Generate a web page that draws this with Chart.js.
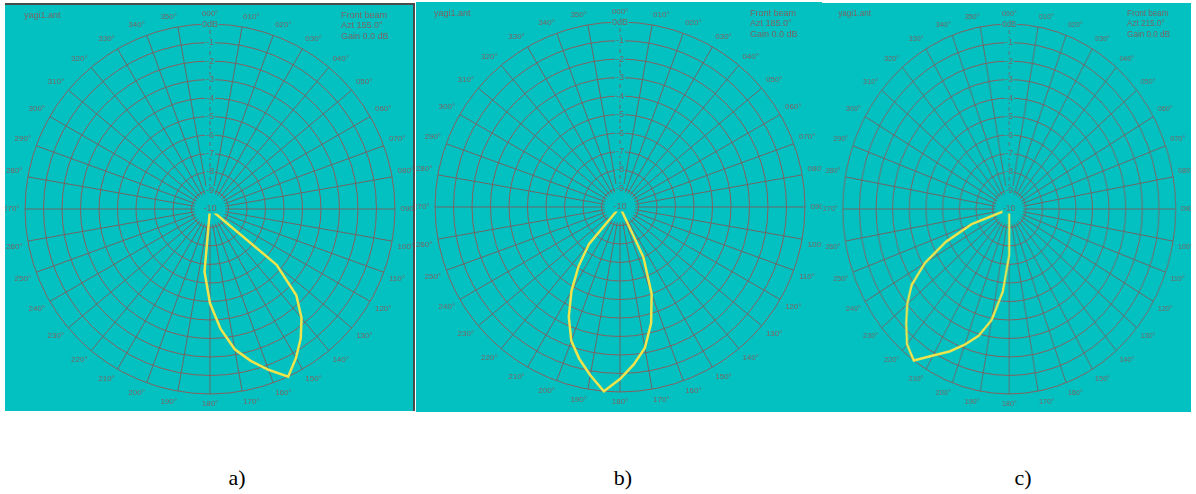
<!DOCTYPE html>
<html lang="en">
<head>
    <title>Yagi beam patterns</title>
    <script src="https://cdn.jsdelivr.net/npm/chart.js"></script>
    <style>
        body {
            margin: 0;
            background: #fff;
            width: 1196px;
            height: 494px;
            position: relative;
            overflow: hidden;
        }
        .panel {
            position: absolute;
            background: #03c1c1;
            overflow: hidden;
            box-sizing: border-box;
        }
        .wrap {
            position: absolute;
            left: 0;
            top: 0;
            width: 410px;
            height: 410px;
        }
        .holder {
            position: absolute;
            width: 414px;
            height: 414px;
        }
        .file, .info {
            position: absolute;
            font-family: "Liberation Sans", Arial, sans-serif;
            font-size: 9px;
            line-height: 10.4px;
            color: #7a6464;
            white-space: nowrap;
        }
        .caption {
            position: absolute;
            top: 464px;
            width: 60px;
            text-align: center;
            font-family: "Liberation Serif", "Times New Roman", serif;
            font-size: 22px;
            line-height: 28px;
            color: #000;
        }
    </style>
</head>
<body>
    <div class="panel" style="left:5px;top:3px;width:410px;height:408px;border-top:2px solid #4a4a4a;border-right:2px solid #4a4a4a;">
        <div class="holder" style="left:-2px;top:-2px;"><canvas id="beamA"></canvas></div>
        <div class="file" style="left:19px;top:5px;">yagi1.ant</div>
        <div class="info" style="left:336px;top:5px;">Front beam<br>Azt 155.0°<br>Gain 0.0 dB</div>
    </div>

    <div class="panel" style="left:416px;top:2px;width:406px;height:410px;">
        <div class="holder" style="left:-3px;top:-1px;"><canvas id="beamB"></canvas></div>
        <div class="file" style="left:18px;top:6px;">yagi1.ant</div>
        <div class="info" style="left:334px;top:6px;">Front beam<br>Azt 185.0°<br>Gain 0.0 dB</div>
    </div>

    <div class="panel" style="left:822px;top:3px;width:369px;height:409px;">
        <div class="wrap" style="transform:scaleX(0.9);transform-origin:0 0;">
            <div class="holder" style="left:1px;top:0px;"><canvas id="beamC"></canvas></div>
            <div class="file" style="left:18px;top:5px;">yagi1.ant</div>
            <div class="info" style="left:339px;top:5px;">Front beam<br>Azt 215.0°<br>Gain 0.0 dB</div>
        </div>
    </div>

    <div class="caption" style="left:207px;">a)</div>
    <div class="caption" style="left:593px;">b)</div>
    <div class="caption" style="left:993px;">c)</div>

    <script>
        // bearings every 5 degrees, only every 10 degrees is labelled
        const bearingLabels = [
            '000°', '', '010°', '', '020°', '', '030°', '', '040°', '', '050°', '',
            '060°', '', '070°', '', '080°', '', '090°', '', '100°', '', '110°', '',
            '120°', '', '130°', '', '140°', '', '150°', '', '160°', '', '170°', '',
            '180°', '', '190°', '', '200°', '', '210°', '', '220°', '', '230°', '',
            '240°', '', '250°', '', '260°', '', '270°', '', '280°', '', '290°', '',
            '300°', '', '310°', '', '320°', '', '330°', '', '340°', '', '350°', ''
        ];

        // gain in dB at each bearing, -10 is the centre of the plot
        const gainA = [
            -10, -10, -10, -10, -10, -10, -10, -10, -10, -10, -10, -10,
            -10, -10, -10, -10, -10, -10, -10, -10, -10, -10, -10, -10,
            -10, -10, -5.3, -3.4, -2.3, -1.45, -0.7, 0, -0.75, -1.5, -2.3, -3.5,
            -4.9, -6.6, -10, -10, -10, -10, -10, -10, -10, -10, -10, -10,
            -10, -10, -10, -10, -10, -10, -10, -10, -10, -10, -10, -10,
            -10, -10, -10, -10, -10, -10, -10, -10, -10, -10, -10, -10
        ];
        const gainB = [
            -10, -10, -10, -10, -10, -10, -10, -10, -10, -10, -10, -10,
            -10, -10, -10, -10, -10, -10, -10, -10, -10, -10, -10, -10,
            -10, -10, -10, -10, -10, -10, -10, -7.0, -5.0, -3.5, -2.26, -1.46,
            -0.7, 0, -0.76, -1.5, -2.3, -3.45, -4.75, -6.1, -7.4, -10, -10, -10,
            -10, -10, -10, -10, -10, -10, -10, -10, -10, -10, -10, -10,
            -10, -10, -10, -10, -10, -10, -10, -10, -10, -10, -10, -10
        ];
        const gainC = [
            -10, -10, -10, -10, -10, -10, -10, -10, -10, -10, -10, -10,
            -10, -10, -10, -10, -10, -10, -10, -10, -10, -10, -10, -10,
            -10, -10, -10, -10, -10, -10, -10, -10, -10, -10, -10, -10,
            -7.5, -5.5, -3.9, -2.9, -2.2, -1.5, -0.85, 0, -0.45, -1.25, -2.0, -2.85,
            -4.15, -5.8, -7.6, -10, -10, -10, -10, -10, -10, -10, -10, -10,
            -10, -10, -10, -10, -10, -10, -10, -10, -10, -10, -10, -10
        ];

        const TEAL = '#03c1c1';
        const TEXT = '#7a6464';

        // keeps the spokes out of the small hub round the centre
        const hub = {
            id: 'hub',
            beforeDatasetsDraw(chart) {
                const s = chart.scales.r;
                const ctx = chart.ctx;
                ctx.save();
                ctx.fillStyle = TEAL;
                ctx.beginPath();
                ctx.arc(s.xCenter, s.yCenter, s.getDistanceFromCenterForValue(-9) - 3, 0, Math.PI * 2);
                ctx.fill();
                ctx.restore();
            }
        };

        beamChart('beamA', gainA);
        beamChart('beamB', gainB);
        beamChart('beamC', gainC);

        function beamChart(id, gain) {
            new Chart(document.getElementById(id), {
                type: 'radar',
                data: {
                    labels: bearingLabels,
                    datasets: [{
                        data: gain,
                        borderColor: '#f0e44c',
                        borderWidth: 2.5,
                        pointRadius: 0,
                        fill: false,
                        tension: 0
                    }]
                },
                options: {
                    responsive: true,
                    maintainAspectRatio: false,
                    animation: false,
                    layout: { padding: 0 },
                    plugins: {
                        legend: { display: false },
                        tooltip: { enabled: false }
                    },
                    scales: {
                        r: {
                            min: -10,
                            max: 0,
                            startAngle: 0,
                            grid: { circular: true, color: '#866060', lineWidth: 1 },
                            angleLines: {
                                color: (c) => c.index % 2 ? 'rgba(0,0,0,0)' : '#6e6666',
                                borderDash: (c) => c.index === 0 ? [4, 3] : []
                            },
                            pointLabels: {
                                color: TEXT,
                                padding: 1,
                                font: { family: 'Liberation Sans', size: 8 }
                            },
                            ticks: {
                                stepSize: 1,
                                z: 1,
                                color: TEXT,
                                font: { family: 'Liberation Sans', size: 9 },
                                backdropColor: TEAL,
                                backdropPadding: { x: 1, y: 0 },
                                callback: (v) => v === 0 ? '0dB' : v
                            }
                        }
                    }
                },
                plugins: [hub]
            });
        }
    </script>
</body>
</html>
